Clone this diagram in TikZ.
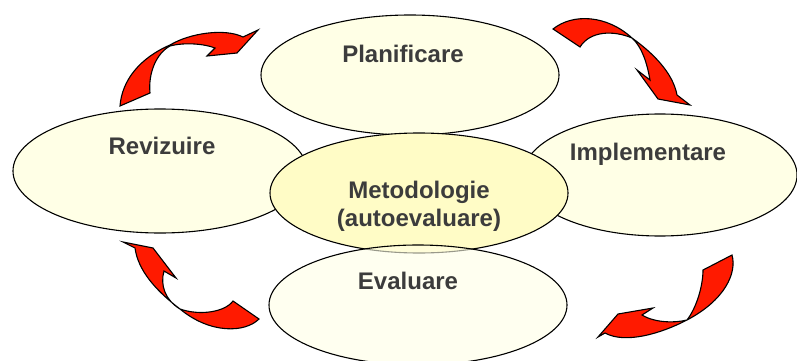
\documentclass[tikz,border=0pt]{standalone}
\usepackage{fontspec}
\setmainfont{Liberation Sans}
\usetikzlibrary{shapes.geometric}
\definecolor{ivory}{HTML}{FFFFE6}
\definecolor{midfill}{HTML}{FFFCC6}
\definecolor{txtgray}{HTML}{3C3C3C}
\definecolor{arrred}{HTML}{FF1A00}
\tikzset{
  oval/.style={ellipse, draw=black, line width=1.1pt, fill=ivory, inner sep=0pt},
  label/.style={font=\fontsize{24}{28}\selectfont\bfseries, text=txtgray, inner sep=0pt},
  bentarrow/.style={fill=arrred, draw=black, line width=1.1pt, line join=miter}
}
\begin{document}
\begin{tikzpicture}[x=1pt,y=-1pt]
\useasboundingbox (0,0) rectangle (797,361);
% ellipses
\node[oval, minimum width=298pt, minimum height=120pt] (plan) at (410,75) {};
\node[oval, minimum width=294pt, minimum height=124pt] (rev) at (160,171) {};
\node[oval, minimum width=274pt, minimum height=122pt] (impl) at (660,175) {};
\node[oval, fill=midfill, minimum width=298pt, minimum height=120pt] (met) at (419,193) {};
\node[oval, fill opacity=0.6, minimum width=298pt, minimum height=120pt] (eval) at (418,305) {};
% labels
\node[label, anchor=base] (tplan) at (403,63) {Planificare};
\node[label, anchor=base] (trev) at (162,154) {Revizuire};
\node[label, anchor=base] (timpl) at (648,160) {Implementare};
\node[label, align=center, anchor=center] (tmet) at (419,206) {Metodologie\\(autoevaluare)};
\node[label, anchor=base] (teval) at (408,289) {Evaluare};
% arrow top-left
\draw[bentarrow] (120,106) .. controls (122,80) and (140,58) .. (170,45)
  .. controls (190,33) and (225,28) .. (243,37)
  -- (258,30) -- (237,53) -- (207,56) -- (215,48)
  .. controls (205,44) and (185,42) .. (170,46)
  .. controls (157,53) and (148,72) .. (150,93) -- cycle;
% arrow top-right
\draw[bentarrow] (553,29) .. controls (573,13) and (607,15) .. (632,38)
  .. controls (653,53) and (673,73) .. (677,95)
  -- (690,105) -- (658,99) -- (637,70) -- (650,80)
  .. controls (647,63) and (642,47) .. (632,38)
  .. controls (613,30) and (590,31) .. (580,47) -- cycle;
% arrow bottom-right
\draw[bentarrow] (732,255) .. controls (737,273) and (725,300) .. (687,320)
  .. controls (660,334) and (625,344) .. (605,333)
  -- (598,337) -- (618,314) -- (653,308) -- (642,315)
  .. controls (655,323) and (675,323) .. (687,320)
  .. controls (697,307) and (703,285) .. (703,270) -- cycle;
% arrow bottom-left
\draw[bentarrow] (233,301) -- (259,319)
  .. controls (245,333) and (210,334) .. (180,309)
  .. controls (155,290) and (138,270) .. (135,248)
  -- (123,242) -- (153,248) -- (176,278) -- (164,271)
  .. controls (160,285) and (165,300) .. (180,309)
  .. controls (200,316) and (225,312) .. (233,301) -- cycle;
\end{tikzpicture}
\end{document}
